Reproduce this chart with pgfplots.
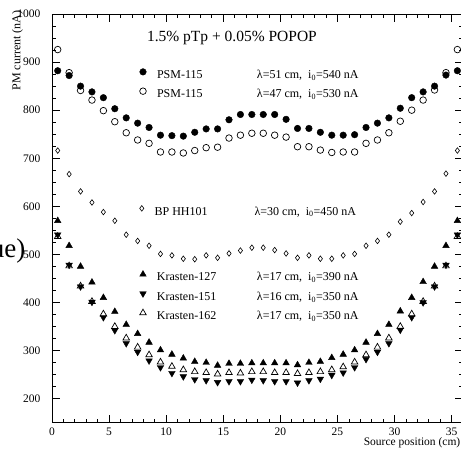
\documentclass[border=0pt]{standalone}
\usepackage{pgfplots}
\pgfplotsset{compat=1.18}
\usepackage{pgfplotstable}
\usepackage{fontspec}
\setmainfont{Liberation Serif}

\pgfplotstableread{
x psmA psmB bp k127 k151 k162
0.5 882 926 716 570 541 537
1.5 872 878 667 518 478 476
2.5 850 841 631 475 433 434
3.5 838 821 608 442 401 402
4.5 826 799 588 410 369 376
5.5 803 776 570 381 342 350
6.5 784 753 541 354 315 326
7.5 773 738 528 335 297 307
8.5 764 731 518 317 279 291
9.5 748 713 501 301 265 276
10.5 747 713 498 292 253 267
11.5 746 711 491 284 246 260
12.5 754 716 490 277 240 256
13.5 761 722 498 275 238 254
14.5 761 723 493 269 234 251
15.5 780 742 502 273 236 254
16.5 791 748 508 273 236 253
17.5 791 752 514 274 239 256
18.5 791 752 514 274 238 256
19.5 791 748 509 274 236 254
20.5 781 744 502 274 236 254
21.5 762 724 493 270 233 252
22.5 762 724 498 275 238 254
23.5 754 717 491 277 241 256
24.5 748 712 491 285 249 260
25.5 748 713 498 292 254 266
26.5 749 713 501 301 265 276
27.5 764 731 518 317 282 291
28.5 773 738 528 335 297 307
29.5 784 753 541 354 315 326
30.5 804 777 568 382 343 350
31.5 826 800 586 410 369 376
32.5 838 821 609 443 400 402
33.5 850 842 631 475 433 434
34.5 873 878 668 518 478 476
35.5 882 926 716 570 541 537
}\data

\pgfplotsset{
  base/.style={scale only axis, width=411.1pt, height=408.7pt,
    xmin=0, xmax=36, ymin=150, ymax=1000,
    at={(0pt,0pt)}, anchor=south west, clip=false},
  leg/.style={legend cell align=left,
    legend image code/.code={\draw[##1] plot coordinates {(0pt,4pt)};},
    legend style={draw=none, fill=none, inner sep=0pt, outer sep=0pt,
      row sep=0pt, column sep=10.7pt,
      font=\fontsize{12}{14}\selectfont,
      nodes={inner sep=0pt, text height=12.3pt, text depth=7pt},
      at={(axis cs:7.68,#1)}, anchor=north west}},
  fc/.style={only marks, mark=*, mark size=3.3pt, black},
  oc/.style={only marks, mark=o, mark size=3.3pt, black, line width=0.7pt},
  od/.style={only marks, mark=diamond, mark size=2.8pt, black, line width=0.6pt},
  ut/.style={only marks, mark=triangle*, mark size=3.8pt, black},
  dt/.style={only marks, mark=triangle*, mark size=3.8pt, black, mark options={rotate=180}},
  ot/.style={only marks, mark=triangle, mark size=3.8pt, black, line width=0.7pt},
}
\newcommand{\lab}[1]{\makebox[100pt][l]{#1}}

\begin{document}
\begin{tikzpicture}
\begin{axis}[base, leg=891.4,
  axis line style={line width=0.9pt},
  every tick/.style={black, line width=0.8pt},
  major tick length=8pt, minor tick length=4pt,
  xtick={0,5,...,35}, minor x tick num=4,
  ytick={200,300,...,1000}, minor y tick num=3,
  tick label style={font=\fontsize{11.5}{13}\selectfont},
  /pgf/number format/assume math mode=true,
  /pgf/number format/1000 sep={},
  xticklabel style={yshift=-1.5pt},
  yticklabel style={xshift=-8pt},
]
\addplot[fc] table[x=x, y=psmA] {\data};
\addlegendentry{\lab{PSM-115}λ=51 cm,\ \ i\textsubscript{0}=540 nA}
\addplot[oc] table[x=x, y=psmB] {\data};
\addlegendentry{\lab{PSM-115}λ=47 cm,\ \ i\textsubscript{0}=530 nA}
\node[font=\fontsize{15.5}{17}\selectfont] at (axis cs:15.76,950.7) {1.5\% pTp + 0.05\% POPOP};
\end{axis}
\begin{axis}[base, hide axis, leg=607.5]
\addplot[od] table[x=x, y=bp] {\data};
\addlegendentry{\lab{BP HH101}λ=30 cm,\ \ i\textsubscript{0}=450 nA}
\end{axis}
\begin{axis}[base, hide axis, leg=470.3]
\addplot[ut] table[x=x, y=k127] {\data};
\addlegendentry{\lab{Krasten-127}λ=17 cm,\ \ i\textsubscript{0}=390 nA}
\addplot[dt] table[x=x, y=k151] {\data};
\addlegendentry{\lab{Krasten-151}λ=16 cm,\ \ i\textsubscript{0}=350 nA}
\addplot[ot] table[x=x, y=k162] {\data};
\addlegendentry{\lab{Krasten-162}λ=17 cm,\ \ i\textsubscript{0}=350 nA}
\end{axis}
\node[rotate=90, anchor=base west, inner sep=0pt, font=\fontsize{12}{14}\selectfont] at (-31.5pt,332pt) {PM current (nA)};
\node[anchor=base east, inner sep=0pt, font=\fontsize{11.5}{13}\selectfont] at (408.5pt,-23pt) {Source position (cm)};
\node[anchor=base east, inner sep=0pt, font=\fontsize{27}{30}\selectfont] at (-26.5pt,165.4pt) {ue)};
\pgfresetboundingbox
\useasboundingbox (-52pt,-25.3pt) rectangle (409pt,422.7pt);
\end{tikzpicture}
\end{document}
